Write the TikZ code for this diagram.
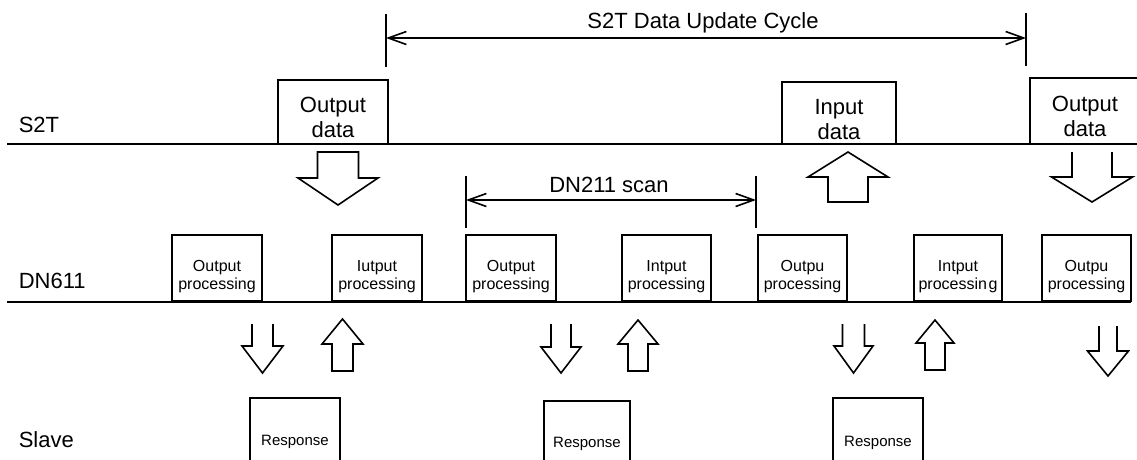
\documentclass[tikz,border=0pt]{standalone}
\usepackage{fontspec}
\setmainfont{Liberation Sans}
\usetikzlibrary{arrows.meta}

% Block arrow: #1 x of axis, #2 shaft half-width, #3 head half-width,
% #4 shaft end, #5 head base, #6 tip, #7 optional closing of the shaft end
\newcommand\flowarrow[7]{%
  \draw (#1-#2,#4) -- (#1-#2,#5) -- (#1-#3,#5) -- (#1,#6) -- (#1+#3,#5) -- (#1+#2,#5) -- (#1+#2,#4) #7;}

\begin{document}
\begin{tikzpicture}[x=1pt,y=-1pt,line width=1.6pt,line join=miter,
  big/.style={font=\fontsize{22}{25}\selectfont},
  small/.style={font=\fontsize{16}{18}\selectfont},
  tiny/.style={font=\fontsize{15}{17}\selectfont},
  rowlabel/.style={big,anchor=base west,inner sep=0},
  databox/.style={draw,inner sep=0},
  procbox/.style={draw,inner sep=0,minimum height=66pt,anchor=south},
  proctext/.style={small,align=center,yshift=-8pt,inner sep=0},
  span/.style={{Straight Barb[length=18pt,width=13pt]}-{Straight Barb[length=18pt,width=13pt]}}]

\useasboundingbox (0,0) rectangle (1137,459);
\fill[white] (0,0) rectangle (1137,459);

% ---------------- time lines ----------------
\coordinate (s2tL) at (7,144);
\coordinate (s2tR) at (1137,144);
\coordinate (dnL) at (7,302);
\coordinate (dnR) at (1131,302);
\draw (s2tL) -- (s2tR);
\draw (dnL) -- (dnR);

\node[rowlabel] (lblS2T) at (18,132) {S2T};
\node[rowlabel] (lblDN) at (18,288) {DN611};
\node[rowlabel] (lblSlave) at (18,447) {Slave};

% ---------------- S2T data update cycle ----------------
\coordinate (cycLt) at (386,14);
\coordinate (cycLb) at (386,67);
\coordinate (cycRt) at (1026,13);
\coordinate (cycRb) at (1026,66);
\coordinate (cycL) at (386,38);
\coordinate (cycR) at (1026,38);
\draw (cycLt) -- (cycLb);
\draw (cycRt) -- (cycRb);
\draw[span] (cycL) -- (cycR);
\node[big,anchor=base,inner sep=0] (cycTxt) at (703,28) {S2T Data Update Cycle};

% ---------------- S2T data blocks ----------------
\node[databox,minimum width=110pt,minimum height=64pt,
  label={[big,align=center,inner sep=0,yshift=-5.5pt]center:Output\\data}] (out1) at (333,112) {};
\node[databox,minimum width=114pt,minimum height=62pt,
  label={[big,align=center,inner sep=0,yshift=-6.5pt]center:Input\\data}] (in1) at (839,113) {};
\draw (1030,144) -- (1030,78) -- (1140,78);
\node[big,align=center,inner sep=0] (out2) at (1085,116.5) {Output\\data};

% S2T <-> DN611 block arrows
\flowarrow{338}{20.5}{40}{152}{178}{205}{-- cycle}
\flowarrow{848}{20}{40}{202}{177}{152}{-- cycle}
\flowarrow{1092}{20}{40.5}{152}{177}{202}{}

% ---------------- DN211 scan ----------------
\coordinate (scLt) at (466,176);
\coordinate (scLb) at (466,228);
\coordinate (scRt) at (756,176);
\coordinate (scRb) at (756,228);
\coordinate (scL) at (466,200);
\coordinate (scR) at (756,200);
\draw (scLt) -- (scLb);
\draw (scRt) -- (scRb);
\draw[span] (scL) -- (scR);
\node[big,anchor=base,inner sep=0] (scTxt) at (609,192) {DN211 scan};

% ---------------- DN611 processing blocks ----------------
\node[procbox,minimum width=90pt,label={[proctext]center:Output\\processing}] (p1) at (217,302) {};
\node[procbox,minimum width=90pt,label={[proctext]center:Iutput\\processing}] (p2) at (377,302) {};
\node[procbox,minimum width=90pt,label={[proctext]center:Output\\processing}] (p3) at (511,302) {};
\node[procbox,minimum width=89pt,label={[proctext]center:Intput\\processing}] (p4) at (666.5,302) {};
\node[procbox,minimum width=89pt,label={[proctext]center:Outpu\\processing}] (p5) at (802.5,302) {};
\node[procbox,minimum width=88pt,label={[proctext]center:Intput\\processin\kern1.5pt g}] (p6) at (958,302) {};
\node[procbox,minimum width=89pt,label={[proctext]center:Outpu\\processing}] (p7) at (1086.5,302) {};

% DN611 <-> Slave block arrows
\flowarrow{262.5}{10.5}{20.5}{324}{346}{373}{}
\flowarrow{342.5}{10.5}{20.5}{371}{344}{319}{-- cycle}
\flowarrow{561}{10}{20}{324}{347}{373}{}
\flowarrow{638}{10}{20}{371}{344}{320}{-- cycle}
\flowarrow{853.5}{11}{19.5}{324}{346}{373}{}
\flowarrow{935}{10}{19}{370}{343}{320}{-- cycle}
\flowarrow{1108}{9}{20.5}{326}{351}{376}{}

% ---------------- slave responses ----------------
\draw (250,470) -- (250,398) -- (340,398) -- (340,470);
\draw (544,470) -- (544,401) -- (630,401) -- (630,470);
\draw (833,470) -- (833,398) -- (923,398) -- (923,470);
\node[tiny,inner sep=0] (r1) at (295,442) {Response};
\node[tiny,inner sep=0] (r2) at (587,444) {Response};
\node[tiny,inner sep=0] (r3) at (878,443) {Response};

\end{tikzpicture}
\end{document}
